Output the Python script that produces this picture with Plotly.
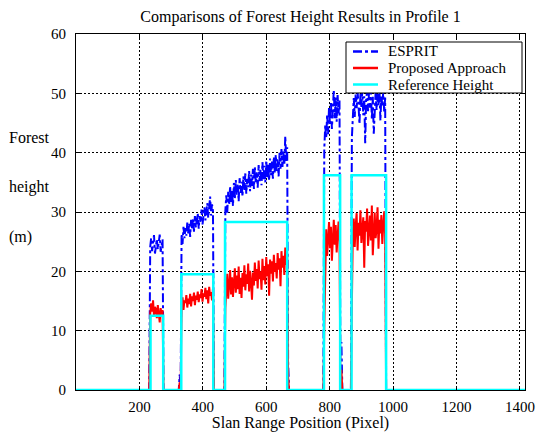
import numpy as np
import plotly.graph_objects as go

# ---------------- data ----------------
step = 3
x_max = 1416
seg_starts = [234, 333, 471, 783, 870]

esprit_s1 = [24.1, 25.6, 23.4, 24.8, 26.1, 23.0, 24.5, 25.4, 23.7, 24.9, 26.2, 23.3, 24.9, 25.4]
esprit_s2 = [26.3, 24.6, 27.5, 25.6, 27.3, 26.0, 28.2, 26.4, 28.1, 25.8, 28.7, 27.0, 29.0, 26.7, 29.3, 27.4, 28.6,
             29.8, 27.2, 29.3, 28.3, 30.4, 27.9, 29.6, 30.8, 28.6, 30.1, 31.5, 29.0, 30.9, 32.6, 29.4, 31.3, 30.2]
esprit_s3 = [30.2, 32.8, 29.9, 33.4, 31.2, 34.3, 31.6, 33.8, 31.0, 34.9, 32.3, 35.4, 32.9, 34.6, 31.8, 35.7, 33.2,
             35.1, 32.6, 36.0, 33.7, 36.5, 33.1, 35.6, 34.2, 36.9, 33.5, 36.3, 34.4, 37.3, 33.9, 37.6, 34.8, 36.7,
             34.1, 37.9, 35.2, 37.2, 34.5, 38.4, 35.5, 37.8, 35.0, 38.7, 35.8, 38.1, 35.3, 39.0, 36.2, 38.5, 35.6,
             39.3, 36.6, 39.6, 36.9, 38.9, 36.0, 40.0, 37.3, 40.6, 37.6, 40.2, 37.9, 42.8, 38.5, 40.9]
esprit_s4 = [40.6, 44.6, 42.4, 46.5, 43.1, 47.7, 44.6, 48.6, 44.0, 48.2, 50.6, 45.8, 49.3, 45.2, 49.7, 46.6, 48.9]
esprit_s5 = [42.5, 47.6, 49.2, 46.0, 49.8, 47.5, 50.3, 48.0, 44.8, 50.0, 47.7, 50.5, 46.3, 49.5, 41.6, 48.9, 50.4,
             47.0, 50.1, 47.6, 50.6, 45.7, 49.4, 43.2, 49.0, 50.3, 47.2, 49.9, 48.0, 50.5, 45.4, 49.7, 47.8, 50.3,
             46.8, 49.3]

proposed_s1 = [12.8, 14.6, 13.2, 15.1, 12.5, 14.0, 13.6, 12.1, 14.3, 13.0, 11.4, 13.8, 12.7, 13.5]
proposed_s2 = [14.2, 15.6, 13.5, 15.1, 14.7, 16.0, 13.9, 15.4, 14.5, 16.2, 14.1, 15.8, 15.0, 16.4, 14.3, 15.9, 15.2,
               16.6, 14.8, 16.1, 15.5, 17.0, 14.9, 16.3, 15.7, 17.2, 15.3, 16.8, 14.6, 17.4, 15.9, 16.5, 15.1, 17.1]
proposed_s3 = [13.8, 17.5, 19.6, 15.4, 18.3, 20.2, 16.1, 19.0, 15.7, 18.6, 20.5, 16.4, 19.3, 17.0, 20.8, 16.2, 18.9,
               15.5, 19.7, 17.4, 21.0, 16.8, 19.5, 17.9, 21.3, 16.6, 20.1, 18.2, 15.2, 19.8, 17.6, 21.5, 18.4, 20.4,
               17.1, 21.8, 18.7, 20.0, 16.9, 22.1, 18.5, 20.9, 17.8, 22.4, 19.2, 21.2, 15.9, 22.0, 19.6, 21.7, 18.3,
               22.8, 19.9, 21.4, 18.8, 23.1, 20.3, 22.2, 17.5, 23.4, 20.6, 22.6, 19.4, 24.0, 21.1, 22.9]
proposed_s4 = [10.5, 24.2, 27.1, 22.6, 26.4, 28.3, 23.9, 27.5, 21.8, 26.9, 28.7, 24.5, 27.8, 23.2, 26.0, 28.4, 25.1]
proposed_s5 = [14.2, 26.5, 28.9, 24.1, 27.7, 29.8, 23.5, 28.2, 26.0, 30.3, 24.8, 27.4, 29.1, 20.6, 28.5, 26.7, 30.6,
               24.3, 27.9, 29.4, 25.2, 31.1, 22.7, 28.0, 29.9, 25.6, 27.2, 30.8, 23.8, 28.7, 26.4, 29.5, 24.6, 27.8,
               30.1, 25.9]

spike_x = [327, 669, 837]
esprit_spikes = [2.6, 4.6, 8.1]
proposed_spikes = [1.3, 2.2, 3.4]

ref_edges = [0, 235, 275, 332, 433, 470, 666, 782, 833, 869, 978, 1416]
ref_levels = [0, 12.5, 0, 19.5, 0, 28.3, 0, 36.2, 0, 36.2, 0]

x_ticks = [200, 400, 600, 800, 1000, 1200, 1400]
y_ticks = [0, 10, 20, 30, 40, 50, 60]

series_names = ["ESPRIT", "Proposed Approach", "Reference Height"]
series_colors = ["#0000ff", "#ff0000", "#00ffff"]
series_dash = ["dashdot", "solid", "solid"]
series_width = [2, 2, 2.5]

# ---------------- build series ----------------
xs = np.arange(0, x_max, step)


def build(segments, spikes):
    y = np.zeros(len(xs))
    for s0, vals in zip(seg_starts, segments):
        i0 = s0 // step
        y[i0:i0 + len(vals)] = vals
    for sx, sv in zip(spike_x, spikes):
        y[sx // step] = sv
    return y


esprit = build([esprit_s1, esprit_s2, esprit_s3, esprit_s4, esprit_s5], esprit_spikes)
proposed = build([proposed_s1, proposed_s2, proposed_s3, proposed_s4, proposed_s5], proposed_spikes)
ref_y = ref_levels + [ref_levels[-1]]

FONT = "Liberation Serif"

W, H = 539, 432
PL, PR, PT, PB = 76, 525, 34, 390  # plot area in page pixels


def px_x(px):
    return (px - PL) / (PR - PL)


def px_y(py):
    return (PB - py) / (PB - PT)


fig = go.Figure()
fig.add_trace(go.Scatter(x=xs, y=esprit, mode="lines", name=series_names[0],
                         line=dict(color=series_colors[0], width=series_width[0], dash=series_dash[0])))
fig.add_trace(go.Scatter(x=xs, y=proposed, mode="lines", name=series_names[1],
                         line=dict(color=series_colors[1], width=series_width[1])))
fig.add_trace(go.Scatter(x=ref_edges, y=ref_y, mode="lines", name=series_names[2],
                         line=dict(color=series_colors[2], width=series_width[2], shape="hv")))

fig.update_layout(
    width=W, height=H,
    margin=dict(l=PL, r=W - PR, t=PT, b=H - PB, autoexpand=False),
    paper_bgcolor="white", plot_bgcolor="white",
    font=dict(family=FONT, size=15, color="black"),
    title=dict(text="Comparisons of Forest Height Results in Profile 1",
               x=((PL + PR) / 2) / W, xanchor="center", y=1 - 16 / H, yanchor="middle",
               font=dict(family=FONT, size=16, color="black")),
    showlegend=False,
)

fig.update_xaxes(range=[0, x_max], tickvals=x_ticks, ticktext=[str(v) for v in x_ticks],
                 automargin=False,
                 showline=True, linecolor="black", linewidth=1, mirror="ticks",
                 ticks="inside", ticklen=4, tickcolor="black",
                 showgrid=True, gridcolor="black", gridwidth=1, griddash="2px,2px",
                 zeroline=False, ticklabelstandoff=3, tickfont=dict(size=15),
                 title=dict(text="Slan Range Position (Pixel)", standoff=4,
                            font=dict(family=FONT, size=16)))
fig.update_yaxes(range=[0, 60], tickvals=y_ticks, automargin=False,
                 showline=True, linecolor="black", linewidth=1, mirror="ticks",
                 ticks="inside", ticklen=4, tickcolor="black",
                 showgrid=True, gridcolor="black", gridwidth=1, griddash="2px,2px",
                 zeroline=False, ticklabelstandoff=6, tickfont=dict(size=15))

for txt, ypx in [("Forest", 137), ("height", 187), ("(m)", 237)]:
    fig.add_annotation(text=txt, xref="paper", yref="paper",
                       x=px_x(7), xanchor="left", y=px_y(ypx), yanchor="middle",
                       showarrow=False, font=dict(family=FONT, size=16, color="black"))

# hand-drawn legend box (MATLAB style)
fig.add_shape(type="rect", xref="paper", yref="paper",
              x0=px_x(346), x1=px_x(522), y0=px_y(93), y1=px_y(42),
              line=dict(color="black", width=1), fillcolor="white", layer="above")
for i, row_y in enumerate([51.5, 68, 84.5]):
    fig.add_shape(type="line", xref="paper", yref="paper",
                  x0=px_x(353), x1=px_x(378), y0=px_y(row_y), y1=px_y(row_y),
                  line=dict(color=series_colors[i], width=2.5, dash=series_dash[i]), layer="above")
    fig.add_annotation(text=series_names[i], xref="paper", yref="paper",
                       x=px_x(386), xanchor="left", y=px_y(row_y), yanchor="middle",
                       showarrow=False, font=dict(family=FONT, size=15, color="black"))

fig.write_html("out.html",
               config={"displayModeBar": False, "staticPlot": True},
               post_script="document.body.style.margin='0';document.body.style.overflow='hidden';")
